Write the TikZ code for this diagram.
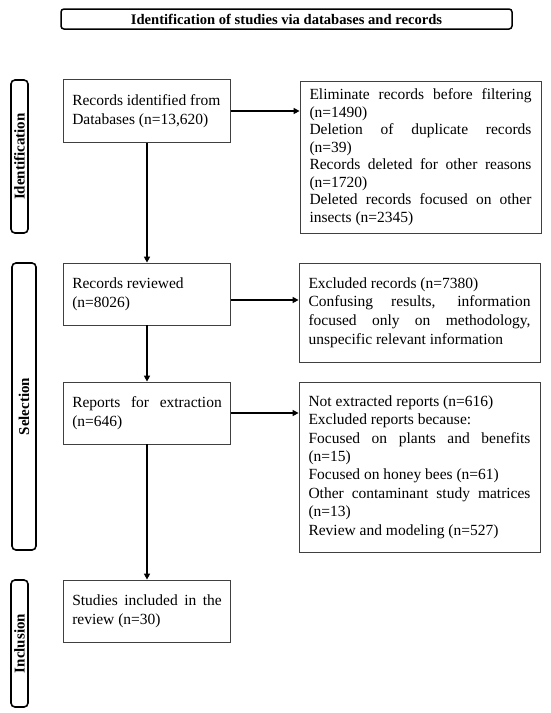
\documentclass[tikz,border=0pt]{standalone}
\usepackage{fontspec}
\setmainfont{Liberation Serif}
\usetikzlibrary{arrows.meta}
\tolerance=10000
\hbadness=10000
\begin{document}
\begin{tikzpicture}[x=1pt,y=1pt,
  lbox/.style={draw=black!75, line width=0.8pt, inner xsep=8.75pt, inner ysep=0pt,
    text width=149.5pt, align=justify, minimum width=167pt,
    font=\fontsize{15.5}{19}\selectfont},
  rbox/.style={draw=black!75, line width=0.8pt, inner xsep=9.5pt, inner ysep=0pt,
    text width=222pt, align=justify, minimum width=241pt},
  side/.style={draw, line width=1.6pt, rounded corners=4pt, rotate=90, inner sep=0pt,
    font=\fontsize{15}{18}\selectfont\bfseries},
  arr/.style={-{Triangle[length=6pt,width=6pt]}, line width=1.5pt}]
\useasboundingbox (0,0) rectangle (550,-713);
\fill[white] (0,0) rectangle (550,-713);

\node[draw, line width=1.5pt, rounded corners=3pt, minimum width=451pt, minimum height=20pt,
  inner sep=0pt, font=\fontsize{14.6}{17}\selectfont\bfseries] (title) at (286.5,-19)
  {Identification of studies via databases and records};

\node[side, minimum width=153pt, minimum height=17pt] (sid) at (19.5,-156.5) {Identification};
\node[side, minimum width=287pt, minimum height=24pt] (ssel) at (24,-406.5) {Selection};
\node[side, minimum width=127pt, minimum height=17pt] (sinc) at (19.5,-643.5) {Inclusion};

\node[lbox, minimum height=63pt] (b1) at (147,-111)
  {Records identified from\\Databases (n=13,620)};
\node[lbox, minimum height=62pt] (b2) at (147,-294)
  {Records reviewed\\(n=8026)};
\node[lbox, minimum height=62pt] (b3) at (147,-413)
  {Reports for extraction\linebreak (n=646)};
\node[lbox, minimum height=62pt] (b4) at (147,-611)
  {Studies included in the\linebreak review (n=30)};

\node[rbox, minimum height=152pt, font=\fontsize{15.5}{17.5}\selectfont] (r1) at (420.5,-157)
  {Eliminate records before filtering\linebreak (n=1490)\par
   Deletion of duplicate records\linebreak (n=39)\par
   Records deleted for other reasons\linebreak (n=1720)\par
   Deleted records focused on other\linebreak insects (n=2345)};
\node[rbox, minimum height=99pt, font=\fontsize{15.5}{18.6}\selectfont] (r2) at (419.5,-312.5)
  {Excluded records (n=7380)\par
   Confusing results, information\linebreak focused only on methodology,\linebreak unspecific relevant information};
\node[rbox, minimum height=170pt, font=\fontsize{15.5}{18.4}\selectfont] (r3) at (419.5,-467)
  {Not extracted reports (n=616)\par
   Excluded reports because:\par
   Focused on plants and benefits\linebreak (n=15)\par
   Focused on honey bees (n=61)\par
   Other contaminant study matrices\linebreak (n=13)\par
   Review and modeling (n=527)};

\draw[arr] (b1) -- (b2);
\draw[arr] (b2) -- (b3);
\draw[arr] (b3) -- (b4);
\draw[arr] (b1.east) -- (b1.east -| r1.west);
\draw[arr] ([yshift=-6pt]b2.east) -- ([yshift=-6pt]b2.east -| r2.west);
\draw[arr] (b3.east) -- (b3.east -| r3.west);
\end{tikzpicture}
\end{document}
